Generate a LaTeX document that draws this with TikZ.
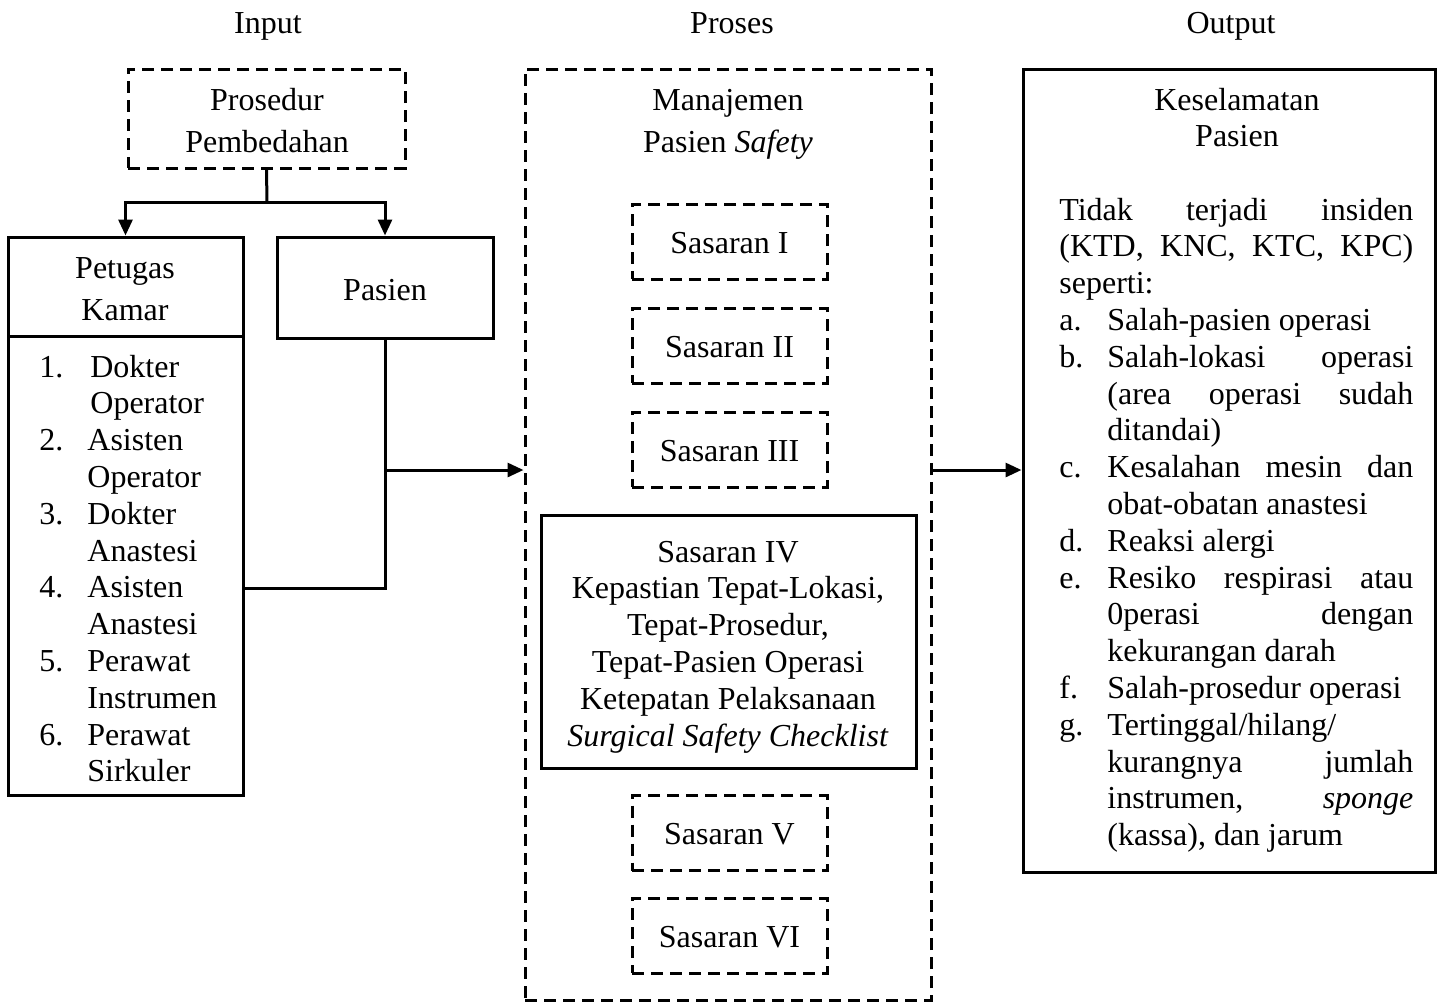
\documentclass[tikz,border=0pt]{standalone}
\usepackage{fontspec}
\setmainfont{Liberation Serif}
\usetikzlibrary{arrows.meta}
\begin{document}
\begin{tikzpicture}[x=0.5pt,y=-0.5pt,
  every node/.style={font=\fontsize{16pt}{18.4pt}\selectfont, inner sep=0pt},
  sbox/.style={draw, line width=1.5pt, rectangle},
  dbox/.style={draw, line width=1.5pt, dash pattern=on 6pt off 3.5pt, rectangle},
  txt/.style={anchor=base},
  conn/.style={line width=1.5pt},
  arr/.style={line width=1.5pt, -{Triangle[length=8pt,width=7pt]}}]
\useasboundingbox (0,0) rectangle (1441,1003);

% titles
\node[txt] (tin) at (268,33) {Input};
\node[txt] (tpr) at (732,33) {Proses};
\node[txt] (tout) at (1231,33) {Output};

% input column
\node[dbox, minimum width=138.5pt, minimum height=49.5pt] (pros) at (266.5,118.5) {};
\node[txt] (prost) at (267,110) {\begin{tabular}[t]{@{}c@{}}Prosedur\\[2.6pt]Pembedahan\end{tabular}};

\node[sbox, minimum width=117.5pt, minimum height=49.5pt] (pet) at (125.5,286.5) {};
\node[txt] (pett) at (125,278) {\begin{tabular}[t]{@{}c@{}}Petugas\\[2.6pt]Kamar\end{tabular}};

\node[sbox, minimum width=117.5pt, minimum height=229.5pt] (list) at (125.5,565.5) {};
\node[anchor=base west] (listt) at (39,377) {\begin{tabular}[t]{@{}l@{\hspace{12pt}}l@{}}
\makebox[12pt][r]{1.} & \hspace{1.5pt}Dokter\\
 & \hspace{1.5pt}Operator\\
\makebox[12pt][r]{2.} & Asisten\\
 & Operator\\
\makebox[12pt][r]{3.} & Dokter\\
 & Anastesi\\
\makebox[12pt][r]{4.} & Asisten\\
 & Anastesi\\
\makebox[12pt][r]{5.} & Perawat\\
 & Instrumen\\
\makebox[12pt][r]{6.} & Perawat\\
 & Sirkuler
\end{tabular}};

\node[sbox, minimum width=108pt, minimum height=50.5pt] (pas) at (385,287.5) {};
\node[txt] (past) at (385,300) {Pasien};

% process column
\node[dbox, minimum width=203pt, minimum height=465.5pt] (proc) at (728,534.5) {};
\node[txt] (proct) at (728,110) {\begin{tabular}[t]{@{}c@{}}Manajemen\\[2.6pt]Pasien \textit{Safety}\end{tabular}};

\node[dbox, minimum width=97.5pt, minimum height=37.5pt] (s1) at (729.5,241.5) {};
\node[txt] (s1t) at (729.5,253) {Sasaran I};
\node[dbox, minimum width=97.5pt, minimum height=37.5pt] (s2) at (729.5,345.5) {};
\node[txt] (s2t) at (729.5,357) {Sasaran II};
\node[dbox, minimum width=97.5pt, minimum height=37.5pt] (s3) at (729.5,449.5) {};
\node[txt] (s3t) at (729.5,461) {Sasaran III};

\node[sbox, minimum width=187.5pt, minimum height=126.5pt] (s4) at (728.5,641.5) {};
\node[txt] (s4t) at (728,562) {\begin{tabular}[t]{@{}c@{}}Sasaran IV\\Kepastian Tepat-Lokasi,\\Tepat-Prosedur,\\Tepat-Pasien Operasi\\Ketepatan Pelaksanaan\\\textit{Surgical Safety Checklist}\end{tabular}};

\node[dbox, minimum width=97.5pt, minimum height=37.5pt] (s5) at (729.5,833) {};
\node[txt] (s5t) at (729.5,844.5) {Sasaran V};
\node[dbox, minimum width=97.5pt, minimum height=37.5pt] (s6) at (729.5,935.5) {};
\node[txt] (s6t) at (729.5,947) {Sasaran VI};

% output column
\node[sbox, minimum width=206pt, minimum height=401.5pt] (out) at (1229,470.5) {};
\node[txt] (outt) at (1237,110) {\begin{tabular}[t]{@{}c@{}}Keselamatan\\Pasien\end{tabular}};
\node[anchor=base west] (outl) at (1059,220) {\begin{tabular}[t]{@{}p{24pt}@{}l@{}}
\multicolumn{2}{@{}l@{}}{\makebox[177pt][s]{Tidak terjadi insiden}}\\
\multicolumn{2}{@{}l@{}}{\makebox[177pt][s]{(KTD, KNC, KTC, KPC)}}\\
\multicolumn{2}{@{}l@{}}{seperti:}\\
a. & Salah-pasien operasi\\
b. & \makebox[153pt][s]{Salah-lokasi operasi}\\
 & \makebox[153pt][s]{(area operasi sudah}\\
 & ditandai)\\
c. & \makebox[153pt][s]{Kesalahan mesin dan}\\
 & obat-obatan anastesi\\
d. & Reaksi alergi\\
e. & \makebox[153pt][s]{Resiko respirasi atau}\\
 & \makebox[153pt][s]{0perasi dengan}\\
 & kekurangan darah\\
f. & Salah-prosedur operasi\\
g. & Tertinggal/hilang/\\
 & \makebox[153pt][s]{kurangnya jumlah}\\
 & \makebox[153pt][s]{instrumen, \textit{sponge}}\\
 & (kassa), dan jarum
\end{tabular}};

% connectors
\coordinate (split) at (267,202);
\draw[conn] (pros.south) -- (split);
\draw[arr] (split) -| (pet.north);
\draw[arr] (split) -| (pas.north);
\draw[conn] (list.east |- {(0,588)}) -| (pas.south);
\draw[arr] (pas.south |- {(0,470)}) -- (proc.west |- {(0,470)});
\draw[arr] (proc.east |- {(0,470)}) -- (out.west |- {(0,470)});
\end{tikzpicture}
\end{document}
